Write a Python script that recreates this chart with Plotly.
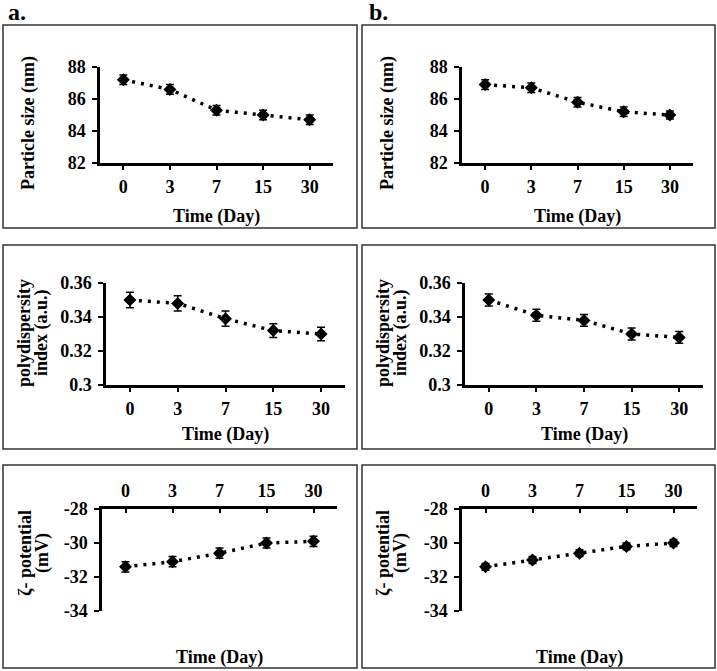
import plotly.graph_objects as go

# ---------------- data ----------------
days = ["0", "3", "7", "15", "30"]

size_a = [87.2, 86.6, 85.3, 85.0, 84.7]
size_a_err = [0.3, 0.3, 0.3, 0.3, 0.3]
size_b = [86.9, 86.7, 85.8, 85.2, 85.0]
size_b_err = [0.3, 0.3, 0.3, 0.3, 0.25]

pdi_a = [0.350, 0.348, 0.339, 0.332, 0.330]
pdi_a_err = [0.0045, 0.0045, 0.0045, 0.004, 0.004]
pdi_b = [0.350, 0.341, 0.338, 0.330, 0.328]
pdi_b_err = [0.0035, 0.0035, 0.0035, 0.0035, 0.0035]

zeta_a = [-31.4, -31.1, -30.6, -30.0, -29.9]
zeta_a_err = [0.3, 0.3, 0.3, 0.3, 0.3]
zeta_b = [-31.4, -31.0, -30.6, -30.2, -30.0]
zeta_b_err = [0.2, 0.2, 0.2, 0.2, 0.2]

size_ticks = [82, 84, 86, 88]
size_ticktext = ["82", "84", "86", "88"]
pdi_ticks = [0.30, 0.32, 0.34, 0.36]
pdi_ticktext = ["0.3", "0.32", "0.34", "0.36"]
zeta_ticks = [-34, -32, -30, -28]
zeta_ticktext = ["-34", "-32", "-30", "-28"]

x_title = "Time (Day)"
panel_labels = ["a.", "b."]

# ---------------- layout helpers ----------------
W, H = 717, 671
FONT = "Liberation Serif, Times New Roman, serif"
FS = 18


def fx(px):
    return px / W


def fy(py):
    return 1 - py / H


fig = go.Figure()

series = [
    (size_a, size_a_err), (size_b, size_b_err),
    (pdi_a, pdi_a_err), (pdi_b, pdi_b_err),
    (zeta_a, zeta_a_err), (zeta_b, zeta_b_err),
]

# pixel geometry of the six plot areas: (x_left, x_right, y_top, y_bottom)
geo = [
    (100, 333, 67, 163), (462, 693, 67, 163),
    (106, 345, 283, 385), (465, 703, 283, 385),
    (102, 337, 509, 611), (462, 697, 509, 611),
]
yspecs = [
    ([82, 88], size_ticks, size_ticktext), ([82, 88], size_ticks, size_ticktext),
    ([0.30, 0.36], pdi_ticks, pdi_ticktext), ([0.30, 0.36], pdi_ticks, pdi_ticktext),
    ([-34, -28], zeta_ticks, zeta_ticktext), ([-34, -28], zeta_ticks, zeta_ticktext),
]

layout_axes = {}
for i, ((yv, ye), (xl, xr, yt, yb), (yr, tv, tt)) in enumerate(zip(series, geo, yspecs)):
    n = i + 1
    xa = "x" if n == 1 else f"x{n}"
    ya = "y" if n == 1 else f"y{n}"
    fig.add_trace(go.Scatter(
        x=days, y=yv, xaxis=xa, yaxis=ya, mode="lines+markers",
        line=dict(color="black", width=3.5, dash="3px,6px"),
        marker=dict(symbol="diamond", size=10, color="black"),
        error_y=dict(type="data", array=ye, visible=True, color="black",
                     thickness=1.5, width=4),
        showlegend=False,
    ))
    top_side = i >= 4
    layout_axes["xaxis" if n == 1 else f"xaxis{n}"] = dict(
        domain=[fx(xl), fx(xr)], anchor=ya, type="category",
        range=[-0.5, 4.5], side="top" if top_side else "bottom",
        showline=True, linecolor="black", linewidth=2.5, mirror=False,
        ticks="inside" if top_side else "outside", ticklen=4, tickwidth=1.5,
        tickcolor="black",
        showgrid=False, zeroline=False, automargin=False,
        tickfont=dict(family=FONT, size=FS, color="black", weight="bold"),
        ticklabelstandoff=2,
    )
    layout_axes["yaxis" if n == 1 else f"yaxis{n}"] = dict(
        domain=[fy(yb), fy(yt)], anchor=xa, range=yr,
        tickvals=tv, ticktext=tt,
        showline=True, linecolor="black", linewidth=2.5,
        ticks="outside", ticklen=5, tickwidth=2, tickcolor="black",
        showgrid=False, zeroline=False, automargin=False,
        tickfont=dict(family=FONT, size=FS, color="black", weight="bold"),
        ticklabelstandoff=3,
    )

fig.update_layout(**layout_axes)

# panel frames
boxes = [
    (3, 357, 25, 228), (362, 715, 25, 228),
    (3, 357, 245, 449), (362, 715, 245, 449),
    (3, 357, 465, 668), (362, 715, 465, 668),
]
shapes = []
for (x0, x1, y0, y1) in boxes:
    shapes.append(dict(type="rect", xref="paper", yref="paper",
                       x0=fx(x0), x1=fx(x1), y0=fy(y1), y1=fy(y0),
                       line=dict(color="#333333", width=1.5)))
fig.update_layout(shapes=shapes)

ann = []


def text(x, y, s, size=FS, angle=0):
    ann.append(dict(x=fx(x), y=fy(y), xref="paper", yref="paper", text=s,
                    showarrow=False, textangle=angle, xanchor="center",
                    yanchor="middle",
                    font=dict(family=FONT, size=size, color="black", weight="bold")))


# panel labels
text(17, 12, panel_labels[0], size=24)
text(378, 12, panel_labels[1], size=24)

# x axis titles
for (xl, xr, _, _), ty in zip(geo, [216, 216, 434, 434, 657, 657]):
    text((xl + xr) / 2, ty, x_title)

# y axis titles
text(28, 123, "Particle size (nm)", angle=-90)
text(387, 123, "Particle size (nm)", angle=-90)
text(24, 333, "polydispersity", angle=-90)
text(41, 333, "index (a.u.)", angle=-90)
text(383, 333, "polydispersity", angle=-90)
text(400, 333, "index (a.u.)", angle=-90)
text(25, 553, "ζ- potential", angle=-90)
text(42, 553, "(mV)", angle=-90)
text(383, 553, "ζ- potential", angle=-90)
text(400, 553, "(mV)", angle=-90)

fig.update_layout(
    annotations=ann,
    width=W, height=H,
    margin=dict(l=0, r=0, t=0, b=0, autoexpand=False),
    paper_bgcolor="white", plot_bgcolor="white",
)

# remove the page's default body margin so the figure sits at the window origin
fig.write_html("out.html", config={"displayModeBar": False},
               post_script="document.body.style.margin='0';")
